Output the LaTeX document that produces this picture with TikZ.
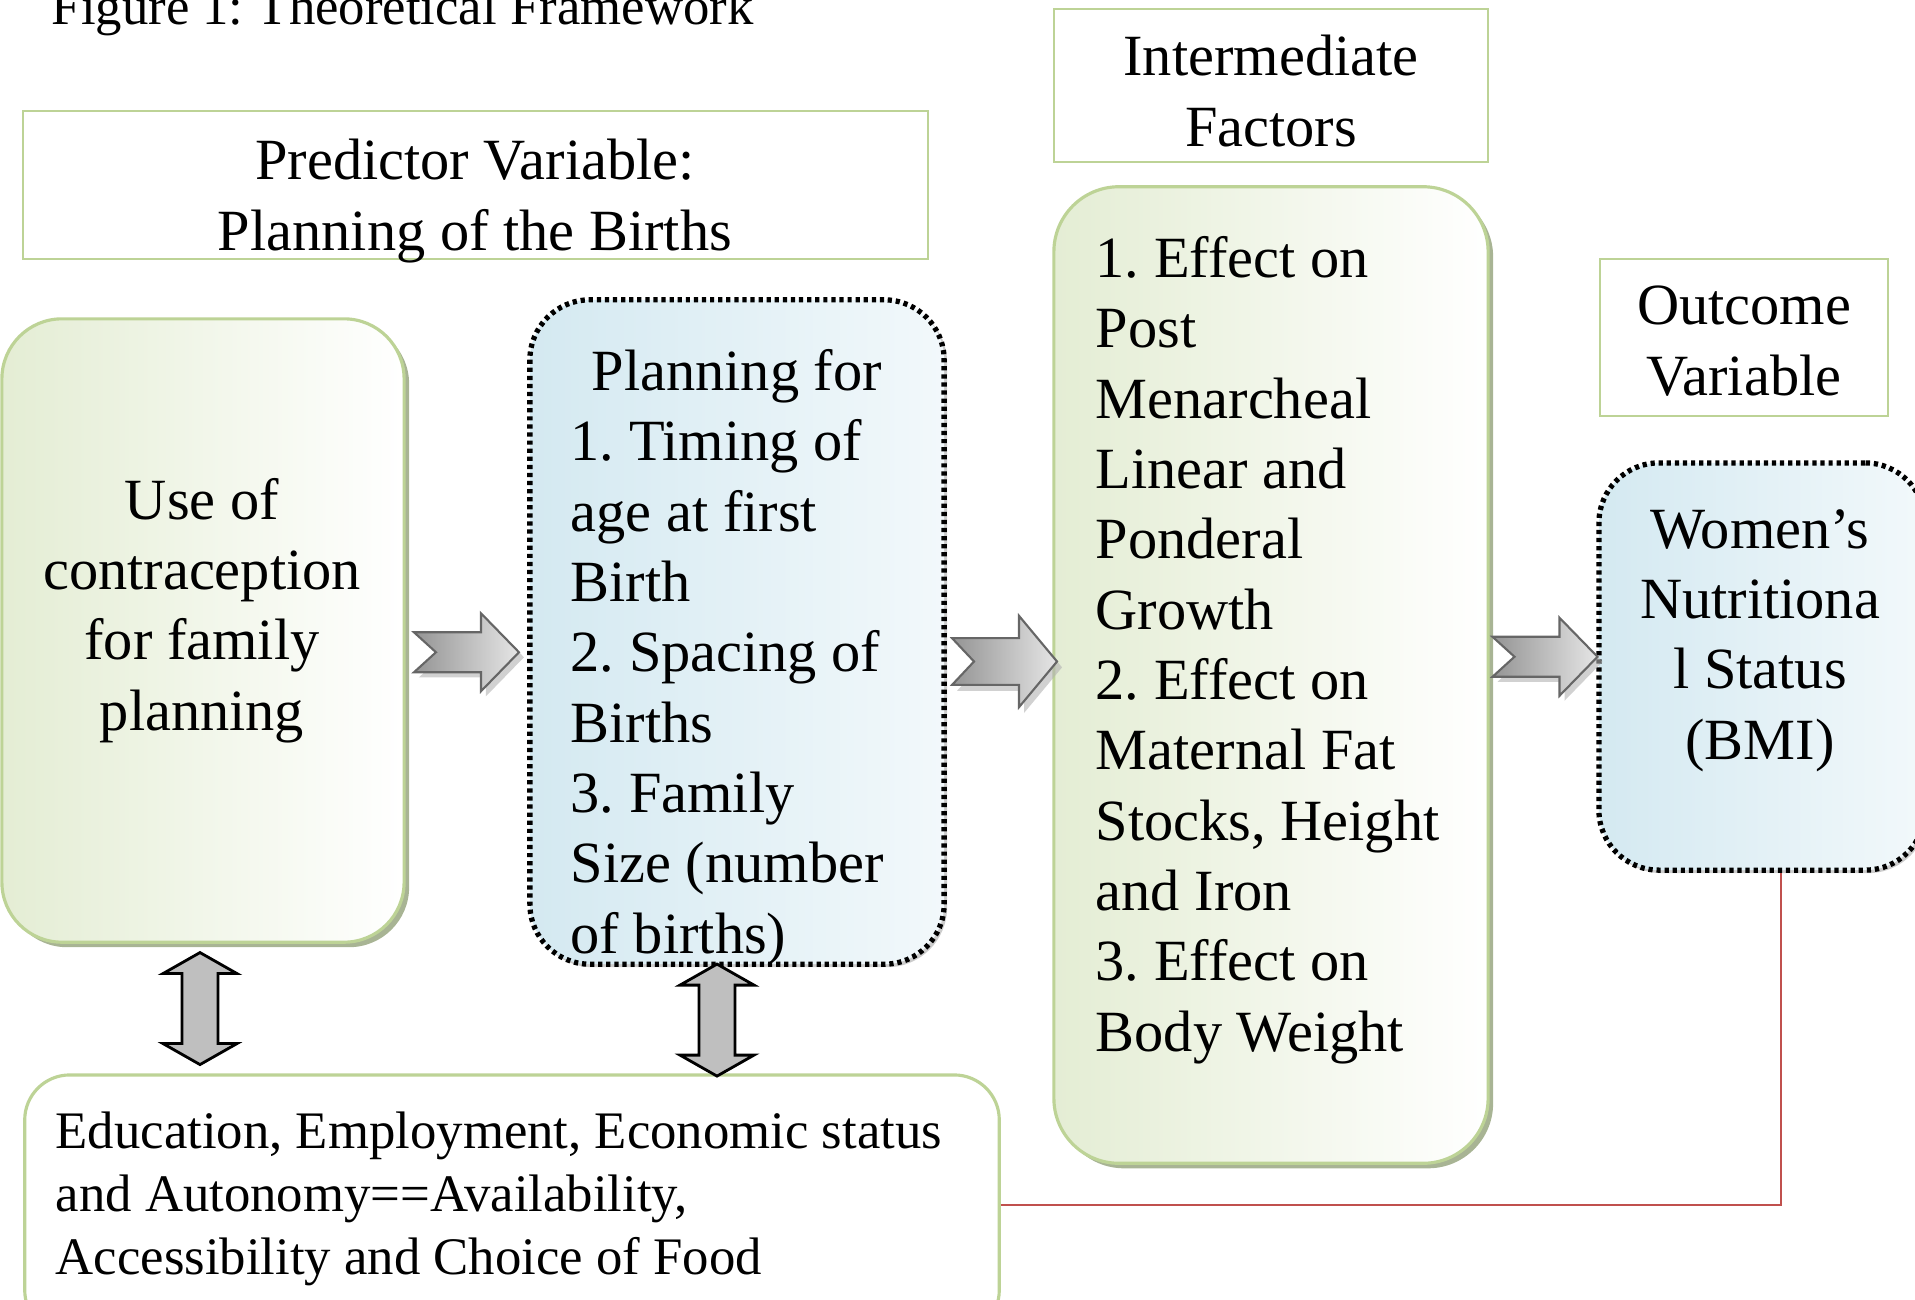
\documentclass[tikz,border=0pt]{standalone}
\usepackage{fontspec}
\setmainfont{Liberation Serif}
\frenchspacing
\usetikzlibrary{positioning,calc,shadows}

\definecolor{boxgreen}{RGB}{189,211,150}
\definecolor{fillgreen}{RGB}{228,237,212}
\definecolor{fillblue}{RGB}{212,233,241}
\definecolor{shadegreen}{RGB}{168,180,148}
\definecolor{linkred}{RGB}{192,80,77}

\tikzset{
  pics/rightarrow/.style={code={
    \fill[black!30,opacity=.6,shift={(5,5)}] (-52.5,-20) -- (14.5,-20) -- (14.5,-39) -- (52.5,0)
      -- (14.5,39) -- (14.5,20) -- (-52.5,20) -- (-30.5,0) -- cycle;
    \draw[draw=black!60,line width=.6pt,left color=black!42,right color=black!10]
      (-52.5,-20) -- (14.5,-20) -- (14.5,-39) -- (52.5,0)
      -- (14.5,39) -- (14.5,20) -- (-52.5,20) -- (-30.5,0) -- cycle;
  }},
  pics/updown/.style={code={
    \draw[fill=black!25,line width=.8pt] (0,-56) -- (37,-35) -- (18,-35) -- (18,35) -- (37,35)
      -- (0,56) -- (-37,35) -- (-18,35) -- (-18,-35) -- (-37,-35) -- cycle;
  }}
}

\begin{document}
\begin{tikzpicture}[x=0.01cm,y=-0.01cm,
    txt/.style={font=\fontsize{16.6pt}{20pt}\selectfont,inner sep=0pt},
    header/.style={draw=boxgreen,line width=.6pt,inner sep=0pt},
    greenbox/.style={draw=boxgreen,line width=.9pt,inner sep=0pt,rounded corners=.6cm,
      left color=fillgreen,right color=white,
      drop shadow={shadow xshift=.05cm,shadow yshift=-.05cm,fill=shadegreen,opacity=1}},
    bluebox/.style={draw=black,line width=1.5pt,dash pattern=on 1.2pt off 1.1pt,inner sep=0pt,
      rounded corners=.6cm,left color=fillblue,right color=white!70!fillblue,
      drop shadow={shadow xshift=.03cm,shadow yshift=-.03cm,fill=black!40,opacity=.5}}]

  \path[use as bounding box,clip] (0,0) rectangle (1915,1299);

  \node[txt,font=\fontsize{15pt}{20pt}\selectfont,anchor=base west] (title) at (51,24) {Figure 1: Theoretical Framework};

  \node[header,minimum width=9.05cm,minimum height=1.48cm] (predhead) at (475.5,185) {};
  \node[txt,align=center,anchor=base] (predtxt) at (475,250) {Predictor Variable:\\Planning of the Births};

  \node[header,minimum width=4.34cm,minimum height=1.53cm] (midhead) at (1271,85.5) {};
  \node[txt,align=center,anchor=base] (midheadtxt) at (1271,146) {Intermediate\\Factors};

  \node[header,minimum width=2.88cm,minimum height=1.57cm] (outhead) at (1744,337.5) {};
  \node[txt,align=center,anchor=base] (outheadtxt) at (1744,395) {Outcome\\Variable};

  \node[greenbox,minimum width=4.02cm,minimum height=6.23cm] (use) at (203,630.5) {};
  \node[txt,align=center,anchor=base] (usetxt) at (202,730) {Use of\\contraception\\for family\\planning};

  \node[bluebox,minimum width=4.14cm,minimum height=6.64cm] (plan) at (737,632) {};
  \node[txt,align=left,anchor=base west] (plantxt) at (570,953)
    {\hspace*{.21cm}Planning for\\1. Timing of\\age at first\\Birth\\2. Spacing of\\Births\\3. Family\\Size (number\\of births)};

  \node[greenbox,rounded corners=.65cm,minimum width=4.34cm,minimum height=9.76cm] (mid) at (1271,675) {};
  \node[txt,align=left,anchor=base west] (midtxt) at (1095,1051)
    {1. Effect on\\Post\\Menarcheal\\Linear and\\Ponderal\\Growth\\2. Effect on\\Maternal Fat\\Stocks, Height\\and Iron\\3. Effect on\\Body Weight};

  \node[bluebox,minimum width=3.26cm,minimum height=4.07cm] (women) at (1762,666.5) {};
  \node[txt,align=center,anchor=base] (womentxt) at (1760,759) {Women’s\\Nutritiona\\l Status\\(BMI)};

  \node[draw=boxgreen,line width=.9pt,fill=white,rounded corners=.45cm,
    minimum width=9.74cm,minimum height=2.6cm] (edu) at (512,1205) {};
  \node[txt,font=\fontsize{15pt}{17.9pt}\selectfont,align=left,anchor=base west] (edutxt) at (55,1274)
    {Education, Employment, Economic status\\and Autonomy==Availability,\\Accessibility and Choice of Food};

  \pic at ($(use.east)!.5!(plan.west)+(0,21)$) {rightarrow};
  \pic[yscale=1.17] at ($(plan.east)!.5!(mid.west)+(5,8)$) {rightarrow};
  \pic at ($(mid.east)!.5!(women.west)+(2,-14)$) {rightarrow};

  \pic at ($(use.south)!.5!(use.south |- edu.north)+(-3,0)$) {updown};
  \pic at ($(plan.south)!.5!(plan.south |- edu.north)+(-20,0)$) {updown};

  \draw[linkred,line width=.8pt] (edu.east) -| ([xshift=.19cm]women.south);

\end{tikzpicture}
\end{document}
